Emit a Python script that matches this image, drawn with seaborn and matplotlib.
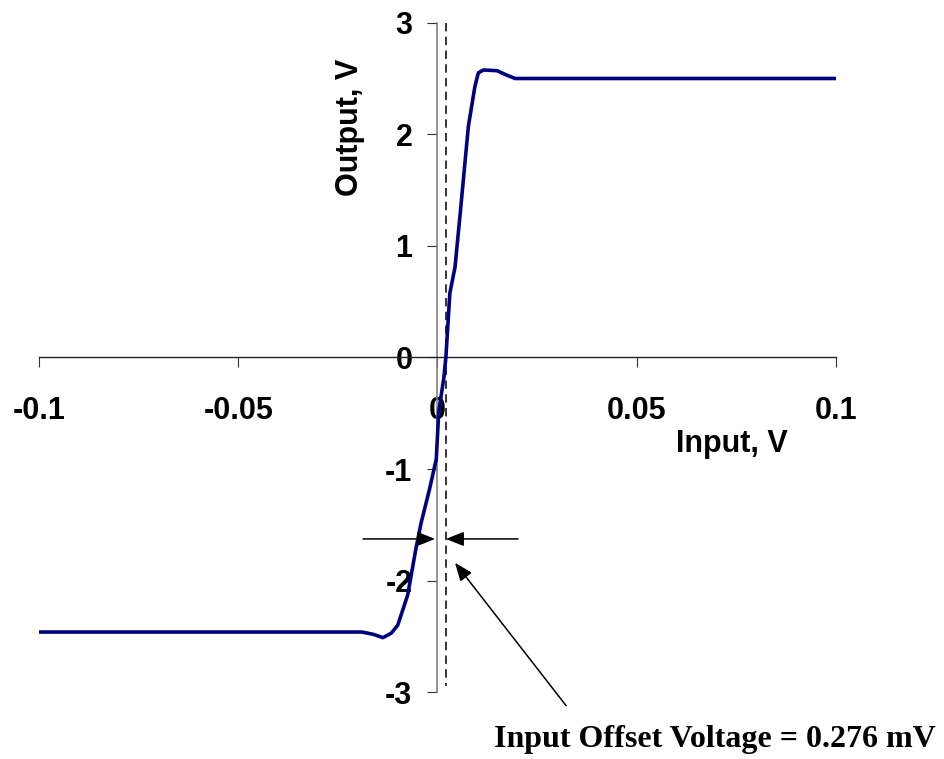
import matplotlib
matplotlib.use("Agg")
import matplotlib.pyplot as plt
import seaborn as sns
import pandas as pd

# ---- data ----
input_v = [-0.1, -0.019, -0.0162, -0.0137, -0.0116, -0.0100, -0.0075, -0.0054,
           -0.0041, -0.0020, -0.0003, 0.0003, 0.0016, 0.0021, 0.0031, 0.0044,
           0.0057, 0.00775, 0.0094, 0.01025, 0.0115, 0.0149, 0.0174, 0.0195, 0.1]
output_v = [-2.46, -2.46, -2.48, -2.51, -2.47, -2.40, -2.13, -1.71,
            -1.48, -1.18, -0.91, -0.49, -0.18, 0.0, 0.575, 0.81,
            1.29, 2.07, 2.43, 2.55, 2.576, 2.57, 2.53, 2.50, 2.50]

x_ticks = [-0.1, -0.05, 0, 0.05, 0.1]
x_tick_labels = ["-0.1", "-0.05", "0", "0.05", "0.1"]
y_ticks = [-3, -2, -1, 0, 1, 2, 3]
y_tick_labels = ["-3", "-2", "-1", "0", "1", "2", "3"]

offset_line_x = 0.00214
offset_line_y = [3.0, -2.94]
arrow_y = -1.626
left_arrow_x = [-0.0187, -0.0006]
right_arrow_x = [0.0202, 0.0021]
pointer_tip = (0.0044, -1.84)
pointer_tail = (0.0323, -3.12)
annotation_text = "Input Offset Voltage = 0.276 mV"

df = pd.DataFrame({"Input": input_v, "Output": output_v})

sns.set_style("white")
plt.rcParams["font.family"] = ["Liberation Sans", "DejaVu Sans"]
plt.rcParams["axes.unicode_minus"] = False
plt.rcParams["text.color"] = "black"
plt.rcParams["xtick.color"] = "black"
plt.rcParams["ytick.color"] = "black"
plt.rcParams["axes.labelcolor"] = "black"

fig = plt.figure(figsize=(9.44, 7.59), dpi=100)
ax = fig.add_axes([0.0416, 0.0879, 0.8437, 0.8822])

sns.lineplot(data=df, x="Input", y="Output", ax=ax, color="#000080",
             linewidth=2.6, sort=False, zorder=3)

ax.set_xlim(-0.1, 0.1)
ax.set_ylim(-3, 3)

for s in ["top", "right"]:
    ax.spines[s].set_visible(False)
ax.spines["left"].set_position(("data", 0))
ax.spines["bottom"].set_position(("data", 0))
ax.spines["left"].set_color("#808080")
ax.spines["left"].set_linewidth(1.2)
ax.spines["bottom"].set_color("#222222")
ax.spines["bottom"].set_linewidth(1.0)

ax.set_xticks(x_ticks)
ax.set_xticklabels(x_tick_labels)
ax.set_yticks(y_ticks)
ax.set_yticklabels(y_tick_labels)
ax.tick_params(axis="x", bottom=True, direction="out", length=7, width=0.8,
               color="#333333", labelcolor="black", pad=21, labelsize=22)
ax.tick_params(axis="y", left=True, direction="out", length=7, width=0.8,
               color="#333333", labelcolor="black", pad=11, labelsize=22)
for lab in ax.get_xticklabels() + ax.get_yticklabels():
    lab.set_fontweight("bold")
ax.set_xlabel("")
ax.set_ylabel("")

# dashed offset line
ax.plot([offset_line_x, offset_line_x], offset_line_y, color="black",
        linestyle=(0, (5.5, 3.5)), linewidth=1.1, zorder=2)

head = dict(arrowstyle="-|>,head_length=0.55,head_width=0.22", color="black",
            lw=1.1, shrinkA=0, shrinkB=0, mutation_scale=20)
ax.annotate("", xy=(left_arrow_x[1], arrow_y), xytext=(left_arrow_x[0], arrow_y),
            arrowprops=head, zorder=4)
ax.annotate("", xy=(right_arrow_x[1], arrow_y), xytext=(right_arrow_x[0], arrow_y),
            arrowprops=head, zorder=4)
ax.annotate("", xy=pointer_tip, xytext=pointer_tail, arrowprops=head,
            annotation_clip=False, zorder=4)

fig.text(0.7754, 0.4045, "Input, V", ha="center", va="baseline",
         fontsize=22, fontweight="bold", color="black")
fig.text(0.3708, 0.8327, "Output, V", ha="center", va="center", rotation=90,
         fontsize=22, fontweight="bold", color="black")
fig.text(936 / 944, (759 - 747) / 759, annotation_text, ha="right", va="baseline",
         fontsize=23, fontweight="bold", color="black",
         family=["Liberation Serif", "DejaVu Serif"])

fig.savefig("out.png", dpi=100)
